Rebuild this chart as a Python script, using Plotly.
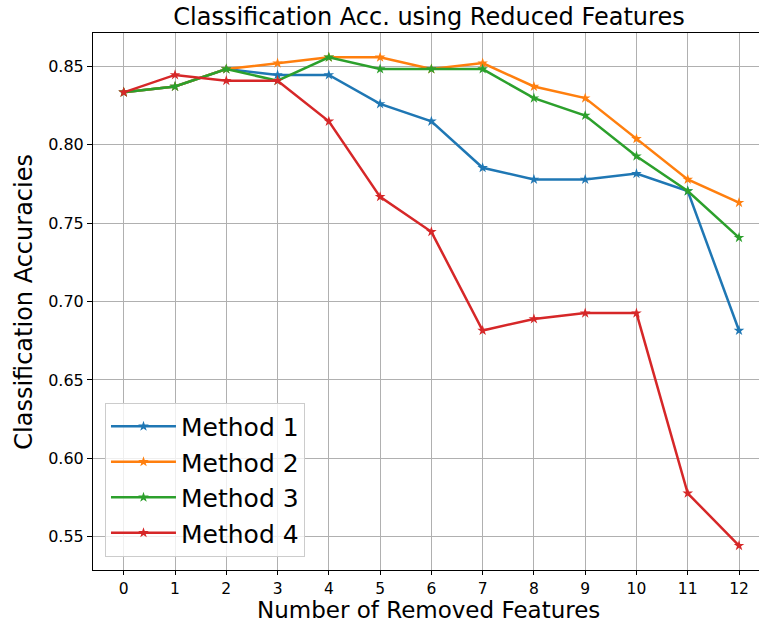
import plotly.graph_objects as go

# Number of removed features (x axis)
removed = list(range(13))

# Classification accuracy per method
method_1 = [0.8333, 0.8370, 0.8481, 0.8444, 0.8444, 0.8259, 0.8148, 0.7852, 0.7778, 0.7778, 0.7815, 0.7704, 0.6815]
method_2 = [0.8333, 0.8370, 0.8481, 0.8519, 0.8556, 0.8556, 0.8481, 0.8519, 0.8370, 0.8296, 0.8037, 0.7778, 0.7630]
method_3 = [0.8333, 0.8370, 0.8481, 0.8407, 0.8556, 0.8481, 0.8481, 0.8481, 0.8296, 0.8185, 0.7926, 0.7704, 0.7407]
method_4 = [0.8333, 0.8444, 0.8407, 0.8407, 0.8148, 0.7667, 0.7444, 0.6815, 0.6889, 0.6926, 0.6926, 0.5778, 0.5444]

series_names = ["Method 1", "Method 2", "Method 3", "Method 4"]
series_values = [method_1, method_2, method_3, method_4]
series_colors = ["#1f77b4", "#ff7f0e", "#2ca02c", "#d62728"]

y_ticks = [0.55, 0.60, 0.65, 0.70, 0.75, 0.80, 0.85]

FONT = "DejaVu Sans"
W, H = 759, 624
L, R, T, B = 93, 0, 33, 53.5
plot_h = H - T - B

fig = go.Figure()
for name, vals, col in zip(series_names, series_values, series_colors):
    fig.add_trace(go.Scatter(
        x=removed, y=vals, name=name, mode="lines+markers",
        legendgroup=name,
        line=dict(color=col, width=2.5),
        marker=dict(symbol="star", size=8, color=col),
    ))

fig.update_layout(
    width=W, height=H,
    margin=dict(l=L, r=R, t=T, b=B, autoexpand=False),
    paper_bgcolor="white", plot_bgcolor="white",
    font=dict(family=FONT, color="black"),
    title=dict(text="Classification Acc. using Reduced Features",
               x=(93 + 765) / 2 / W, xanchor="center",
               y=1 - 17 / H, yanchor="middle",
               font=dict(size=24, family=FONT, color="black")),
    showlegend=True,
    legend=dict(
        x=0.018, y=0.025, xanchor="left", yanchor="bottom",
        bgcolor="rgba(255,255,255,0.8)", bordercolor="#cccccc", borderwidth=1,
        font=dict(size=25, family=FONT, color="black"),
        itemwidth=65, tracegroupgap=0,
    ),
)

# Axis titles placed as annotations for exact positioning
fig.add_annotation(
    text="Number of Removed Features", showarrow=False,
    xref="paper", yref="paper",
    x=(429 - L) / (W - L - R), y=-(610.5 - (H - B)) / plot_h,
    xanchor="center", yanchor="middle", borderpad=0,
    font=dict(size=23, family=FONT, color="black"),
)
fig.add_annotation(
    text="Classification Accuracies", showarrow=False, textangle=-90,
    xref="paper", yref="paper",
    x=-(L - 24) / (W - L - R), y=((H - B) - 302) / plot_h,
    xanchor="center", yanchor="middle", borderpad=0,
    font=dict(size=24, family=FONT, color="black"),
)

fig.update_xaxes(
    range=[-0.6, 12.39], tickmode="array", tickvals=removed,
    ticktext=[str(v) for v in removed],
    showgrid=True, gridcolor="#b0b0b0", gridwidth=1,
    showline=True, linecolor="black", linewidth=1, mirror=True,
    ticks="outside", ticklen=4, tickcolor="black",
    tickfont=dict(size=15.5, family=FONT, color="black"),
    zeroline=False, automargin=False,
)
fig.update_yaxes(
    range=[0.5289, 0.8711], tickmode="array", tickvals=y_ticks,
    ticktext=[f"{v:.2f}" for v in y_ticks],
    showgrid=True, gridcolor="#b0b0b0", gridwidth=1,
    showline=True, linecolor="black", linewidth=1,
    ticks="outside", ticklen=5, tickcolor="black",
    tickfont=dict(size=16, family=FONT, color="black"),
    zeroline=False, automargin=False,
)

fig.write_html("out.html")
